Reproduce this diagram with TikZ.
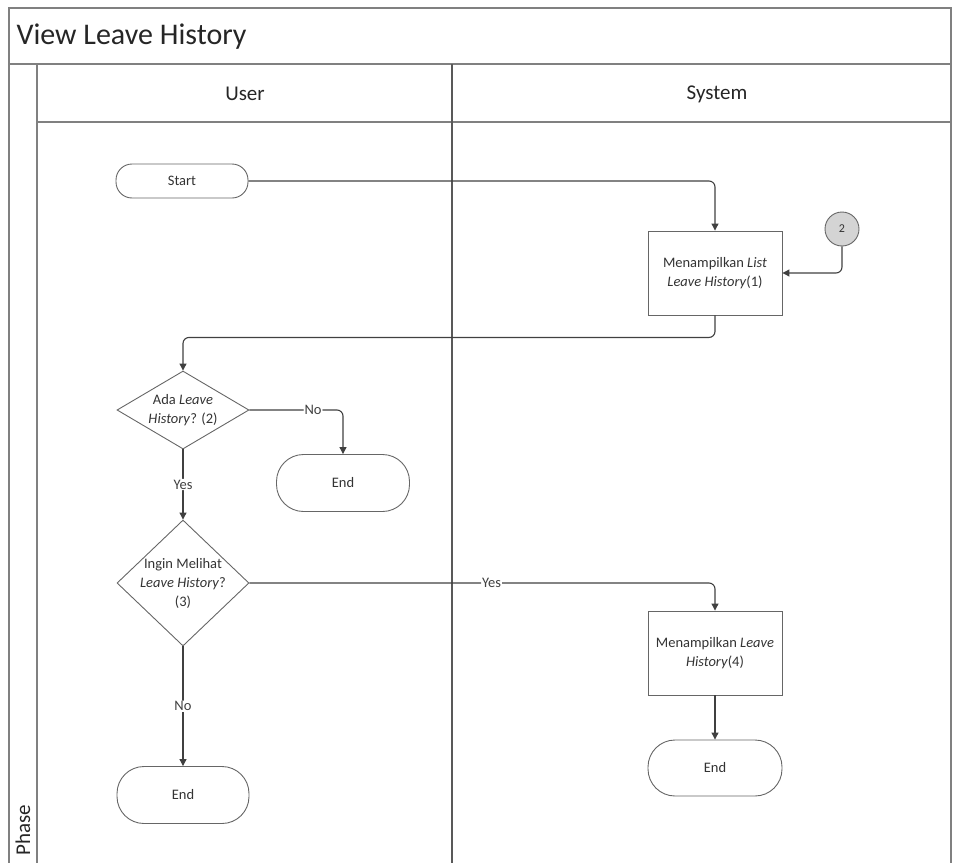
\documentclass[tikz,border=0pt]{standalone}
\usepackage{fontspec}
\setmainfont{Carlito}
\usetikzlibrary{arrows.meta,shapes.geometric}

\tikzset{
  frame/.style={draw=black!50, line width=1.6pt},
  lane/.style={draw=black!65, line width=1.2pt},
  flow/.style={draw=black!75, line width=1.1pt, rounded corners=6pt,
               -{Triangle[length=7pt,width=7pt]}},
  shapetext/.style={font=\fontsize{14.5}{19}\selectfont, text=black!80},
  term/.style={draw=black!60, line width=0.9pt, align=center, shapetext},
  procbox/.style={draw=black!60, line width=0.9pt, align=center,
                  minimum width=134pt, minimum height=84pt, inner sep=1pt, shapetext},
  decision/.style={draw=black!60, line width=0.9pt, diamond, align=center, shapetext},
  lbl/.style={fill=white, inner sep=1pt, font=\fontsize{14.5}{16}\selectfont, text=black!75},
  header/.style={font=\fontsize{21}{24}\selectfont, text=black!85},
}

\begin{document}
\begin{tikzpicture}[x=1pt, y=-1pt]
\useasboundingbox (0,0) rectangle (953,862);

% pool frame, title band, header row and lanes
\draw[frame] (9,870) -- (9,8) -- (951,8) -- (951,870);
\draw[frame] (9,64) -- (951,64);
\draw[frame] (37,64) -- (37,870);
\draw[frame] (37,122) -- (951,122);
\draw[lane] (452,64) -- (452,870);

\node[anchor=west, font=\fontsize{30}{34}\selectfont, text=black!85] (title) at (13,37) {View Leave History};
\node[header] (userhd) at (245,94) {User};
\node[header] (syshd) at (717,94) {System};
\node[header, rotate=90, anchor=west] (phase) at (23,859) {Phase};

% shapes
\node[term, minimum width=132pt, minimum height=34pt, inner sep=1pt, rounded corners=16pt] (start) at (182,181) {Start};
\node[procbox] (list) at (715,273) {Menampilkan \textit{List}\\\textit{Leave History}(1)};
\node[draw=black!60, line width=0.9pt, fill=black!17, circle, minimum size=34pt, inner sep=0pt,
      font=\fontsize{12}{14}\selectfont, text=black!80] (con2) at (842,229) {2};
\node[decision, shape aspect=1.7, inner sep=-3pt, minimum width=132pt, minimum height=78pt] (ada) at (183,410) {Ada \textit{Leave}\\\textit{History}? (2)};
\node[term, minimum width=133pt, minimum height=57pt, rounded corners=27pt] (end1) at (343,483) {End};
\node[decision, shape aspect=1.05, inner sep=-5pt, minimum width=132pt, minimum height=126pt] (ingin) at (183,583) {Ingin Melihat\\\textit{Leave History}?\\(3)};
\node[procbox] (show) at (715,653) {Menampilkan \textit{Leave}\\\textit{History}(4)};
\node[term, minimum width=134pt, minimum height=56pt, rounded corners=27pt] (end3) at (715,768) {End};
\node[term, minimum width=132pt, minimum height=57pt, rounded corners=27pt] (end2) at (183,795) {End};

% connectors
\draw[flow] (start.east) -| (list.north);
\draw[flow] (con2.south) |- (list.east);
\draw[flow] (list.south) -- ++(0,22) -| (ada.north);
\draw[flow] (ada.east) -| (end1.north) node[lbl, pos=0.34] {No};
\draw[flow] (ada.south) -- (ingin.north) node[lbl, midway] {Yes};
\draw[flow] (ingin.east) -| (show.north) node[lbl, pos=0.26] {Yes};
\draw[flow] (show.south) -- (end3.north);
\draw[flow] (ingin.south) -- (end2.north) node[lbl, pos=0.5] {No};
\end{tikzpicture}
\end{document}
